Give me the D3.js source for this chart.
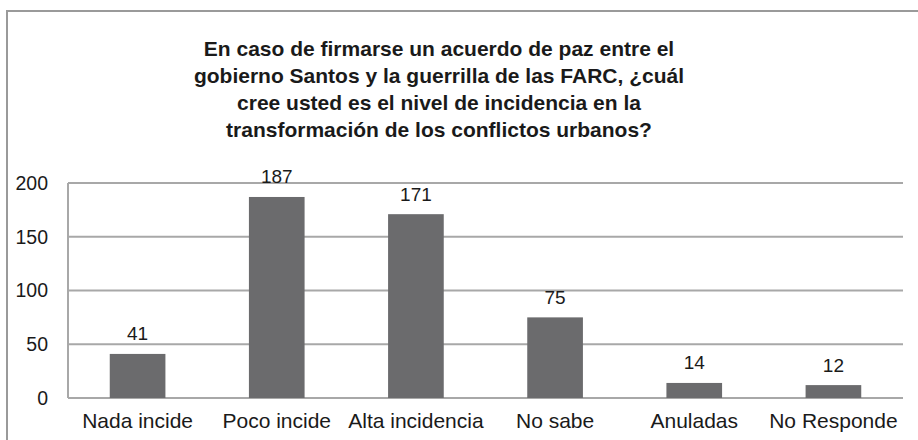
<!DOCTYPE html>
<html>
<head>
<meta charset="utf-8">
<script src="https://cdn.jsdelivr.net/npm/d3@7"></script>
<style>
  body { margin: 0; background: #fff; }
  text { font-family: "Liberation Sans", Arial, sans-serif; fill: #1a1a1a; }
</style>
</head>
<body>
<div id="chart"></div>
<script>
var categories = ["Nada incide", "Poco incide", "Alta incidencia", "No sabe", "Anuladas", "No Responde"];
var values = [41, 187, 171, 75, 14, 12];
var yTicks = [0, 50, 100, 150, 200];
var titleLines = [
  "En caso de firmarse un acuerdo de paz entre el",
  "gobierno Santos y la guerrilla de las FARC, ¿cuál",
  "cree usted es el nivel de incidencia en la",
  "transformación de los conflictos urbanos?"
];

var width = 918, height = 440;
var plotLeft = 68, plotRight = 903, plotTop = 183, plotBottom = 398;

var svg = d3.select("#chart")
  .append("svg")
  .attr("width", width)
  .attr("height", height);

// outer frame (only top and left edges are visible)
svg.append("path")
  .attr("d", "M7,440 L7,11 L918,11")
  .attr("fill", "none")
  .attr("stroke", "#9a9a9a")
  .attr("stroke-width", 2);

// title
svg.append("g")
  .selectAll("text")
  .data(titleLines)
  .enter()
  .append("text")
  .attr("x", 439)
  .attr("y", function(d, i) { return 55.5 + i * 27.3; })
  .attr("text-anchor", "middle")
  .attr("font-size", "21px")
  .attr("font-weight", "bold")
  .text(function(d) { return d; });

var x = d3.scaleBand()
  .domain(categories)
  .range([plotLeft, plotRight])
  .paddingInner(0.6)
  .paddingOuter(0.3);

var y = d3.scaleLinear()
  .domain([0, 200])
  .range([plotBottom, plotTop]);

// gridlines
svg.append("g")
  .selectAll("line")
  .data(yTicks)
  .enter()
  .append("line")
  .attr("x1", plotLeft)
  .attr("x2", plotRight)
  .attr("y1", function(d) { return y(d); })
  .attr("y2", function(d) { return y(d); })
  .attr("stroke", "#a8a8a8")
  .attr("stroke-width", 2);

// left axis line
svg.append("line")
  .attr("x1", plotLeft).attr("x2", plotLeft)
  .attr("y1", plotTop).attr("y2", plotBottom)
  .attr("stroke", "#a8a8a8")
  .attr("stroke-width", 2);

// y tick labels
svg.append("g")
  .selectAll("text")
  .data(yTicks)
  .enter()
  .append("text")
  .attr("x", 48)
  .attr("y", function(d) { return y(d); })
  .attr("dy", "0.35em")
  .attr("text-anchor", "end")
  .attr("font-size", "19.5px")
  .text(function(d) { return d; });

// bars
svg.append("g")
  .selectAll("rect")
  .data(values)
  .enter()
  .append("rect")
  .attr("x", function(d, i) { return x(categories[i]); })
  .attr("y", function(d) { return y(d); })
  .attr("width", x.bandwidth())
  .attr("height", function(d) { return y(0) - y(d); })
  .attr("fill", "#6b6b6d");

// value labels
svg.append("g")
  .selectAll("text")
  .data(values)
  .enter()
  .append("text")
  .attr("x", function(d, i) { return x(categories[i]) + x.bandwidth() / 2; })
  .attr("y", function(d) { return y(d) - 13.5; })
  .attr("text-anchor", "middle")
  .attr("font-size", "19px")
  .text(function(d) { return d; });

// category labels
svg.append("g")
  .selectAll("text")
  .data(categories)
  .enter()
  .append("text")
  .attr("x", function(d) { return x(d) + x.bandwidth() / 2; })
  .attr("y", 428)
  .attr("text-anchor", "middle")
  .attr("font-size", "21px")
  .text(function(d) { return d; });
</script>
</body>
</html>
